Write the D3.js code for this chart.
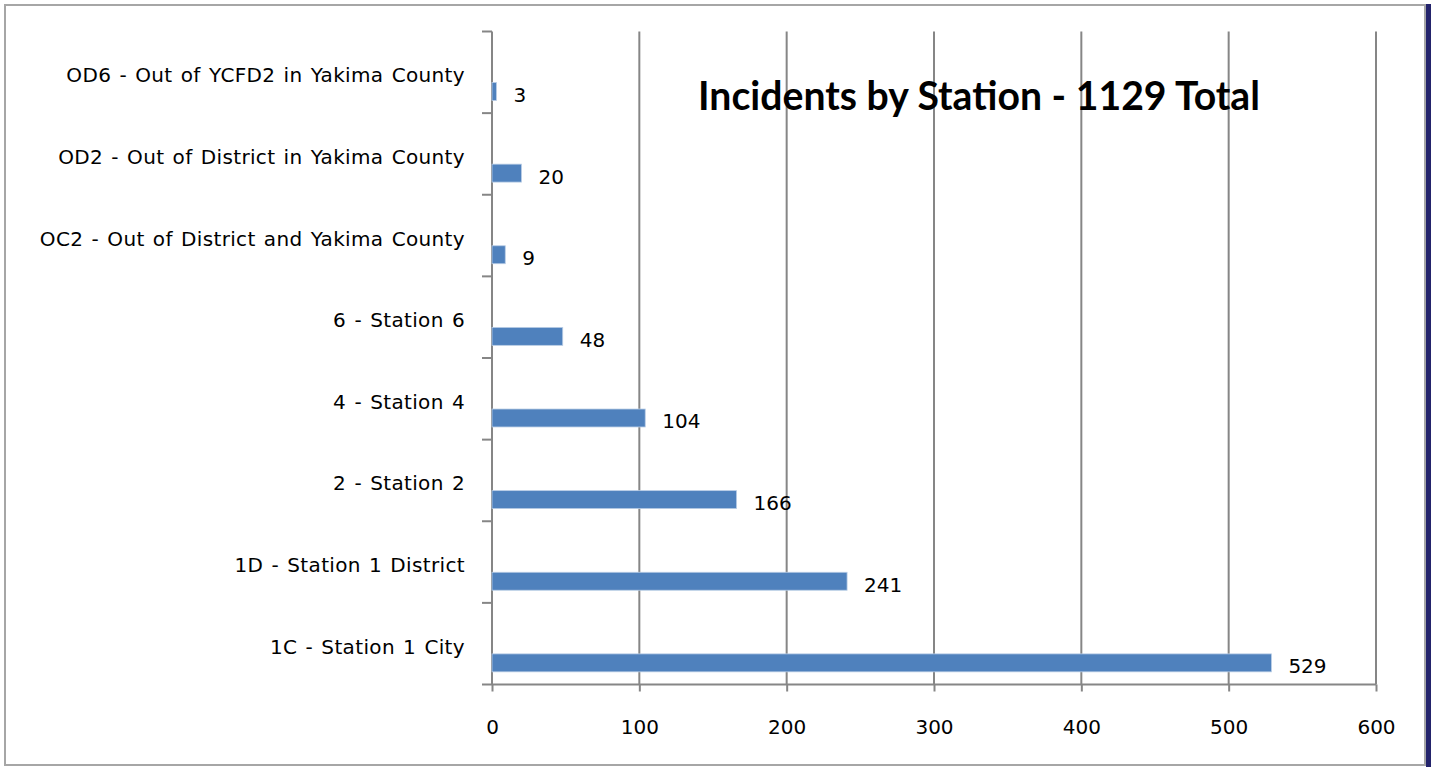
<!DOCTYPE html>
<html>
<head>
<meta charset="utf-8">
<script src="https://cdn.jsdelivr.net/npm/d3@7"></script>
<style>
  html, body { margin: 0; padding: 0; background: #fff; }
  svg { display: block; }
  .lbl { font-family: 'DejaVu Sans', sans-serif; font-size: 20px; fill: #000; }
  .cat { letter-spacing: 0.35px; word-spacing: 1.5px; }
  .title { font-family: Lato, 'DejaVu Sans', sans-serif; font-weight: bold; font-size: 41px; fill: #000; }
</style>
</head>
<body>
<div id="chart"></div>
<script>
// categories listed top to bottom, as in the picture
var stations = [
  'OD6 - Out of YCFD2 in Yakima County',
  'OD2 - Out of District in Yakima County',
  'OC2 - Out of District and Yakima County',
  '6 - Station 6',
  '4 - Station 4',
  '2 - Station 2',
  '1D - Station 1 District',
  '1C - Station 1 City'
];
var incidents = [3, 20, 9, 48, 104, 166, 241, 529];
var xTicks = [0, 100, 200, 300, 400, 500, 600];
var title = 'Incidents by Station - 1129 Total';

var W = 1431, H = 767;
var m = { left: 492, right: 55, top: 31.5, bottom: 82.5 };
var w = W - m.left - m.right, h = H - m.top - m.bottom;

var svg = d3.select('#chart').append('svg')
  .attr('width', W)
  .attr('height', H);

// outer frame and the dark strip on the right edge
svg.append('rect')
  .attr('x', 5).attr('y', 5)
  .attr('width', 1420).attr('height', 760)
  .attr('fill', 'none')
  .attr('stroke', '#a6a6a6')
  .attr('stroke-width', 2);
svg.append('rect')
  .attr('x', 1426).attr('y', 4)
  .attr('width', 5).attr('height', H - 4)
  .attr('fill', '#23236b');

var g = svg.append('g')
  .attr('transform', 'translate(' + m.left + ',' + m.top + ')');

var xScale = d3.scaleLinear().domain([0, 600]).range([0, w]);
var yScale = d3.scaleBand().domain(stations).range([0, h]);
var bw = yScale.bandwidth();

// vertical gridlines
g.selectAll('line.grid')
  .data(xTicks.slice(1))
  .enter().append('line')
  .attr('class', 'grid')
  .attr('x1', function (d) { return xScale(d); })
  .attr('x2', function (d) { return xScale(d); })
  .attr('y1', 0)
  .attr('y2', h)
  .attr('stroke', '#868686')
  .attr('stroke-width', 2);

// x axis
var xAxis = d3.axisBottom(xScale).tickValues(xTicks).tickSize(7).tickPadding(28);
var xg = g.append('g')
  .attr('class', 'xaxis')
  .attr('transform', 'translate(0,' + h + ')')
  .call(xAxis);
xg.select('.domain').remove();
xg.append('line')
  .attr('x1', -10).attr('x2', w)
  .attr('stroke', '#868686').attr('stroke-width', 2);
xg.selectAll('.tick line').attr('stroke', '#868686').attr('stroke-width', 2);
xg.selectAll('.tick text')
  .attr('class', 'lbl')
  .attr('fill', '#000');

// y axis: ticks on band boundaries
var yg = g.append('g').attr('class', 'yaxis');
yg.append('line')
  .attr('y1', 0).attr('y2', h)
  .attr('stroke', '#868686').attr('stroke-width', 2);
yg.selectAll('line.ytick')
  .data(stations)
  .enter().append('line')
  .attr('class', 'ytick')
  .attr('x1', -10).attr('x2', 0)
  .attr('y1', function (d) { return yScale(d); })
  .attr('y2', function (d) { return yScale(d); })
  .attr('stroke', '#868686').attr('stroke-width', 2);

yg.selectAll('text.cat')
  .data(stations)
  .enter().append('text')
  .attr('class', 'lbl cat')
  .attr('x', -27)
  .attr('y', function (d) { return yScale(d) + bw / 2 + 3; })
  .attr('dy', '0.35em')
  .attr('text-anchor', 'end')
  .text(function (d) { return d; });

// bars
var rows = stations.map(function (s, i) { return { name: s, value: incidents[i] }; });

g.selectAll('rect.bar')
  .data(rows)
  .enter().append('rect')
  .attr('class', 'bar')
  .attr('x', 0)
  .attr('y', function (d) { return yScale(d.name) + bw * 0.625; })
  .attr('width', function (d) { return xScale(d.value); })
  .attr('height', bw * 0.22)
  .attr('fill', '#4f81bd')
  .attr('stroke', '#b9cde5')
  .attr('stroke-width', 0.8);

g.selectAll('text.val')
  .data(rows)
  .enter().append('text')
  .attr('class', 'lbl val')
  .attr('x', function (d) { return xScale(d.value) + 17; })
  .attr('y', function (d) { return yScale(d.name) + bw * 0.735 + 3.5; })
  .attr('dy', '0.35em')
  .text(function (d) { return d.value; });

// title
svg.append('text')
  .attr('class', 'title')
  .attr('x', 698)
  .attr('y', 110)
  .attr('textLength', 562)
  .attr('lengthAdjust', 'spacingAndGlyphs')
  .text(title);
</script>
</body>
</html>
